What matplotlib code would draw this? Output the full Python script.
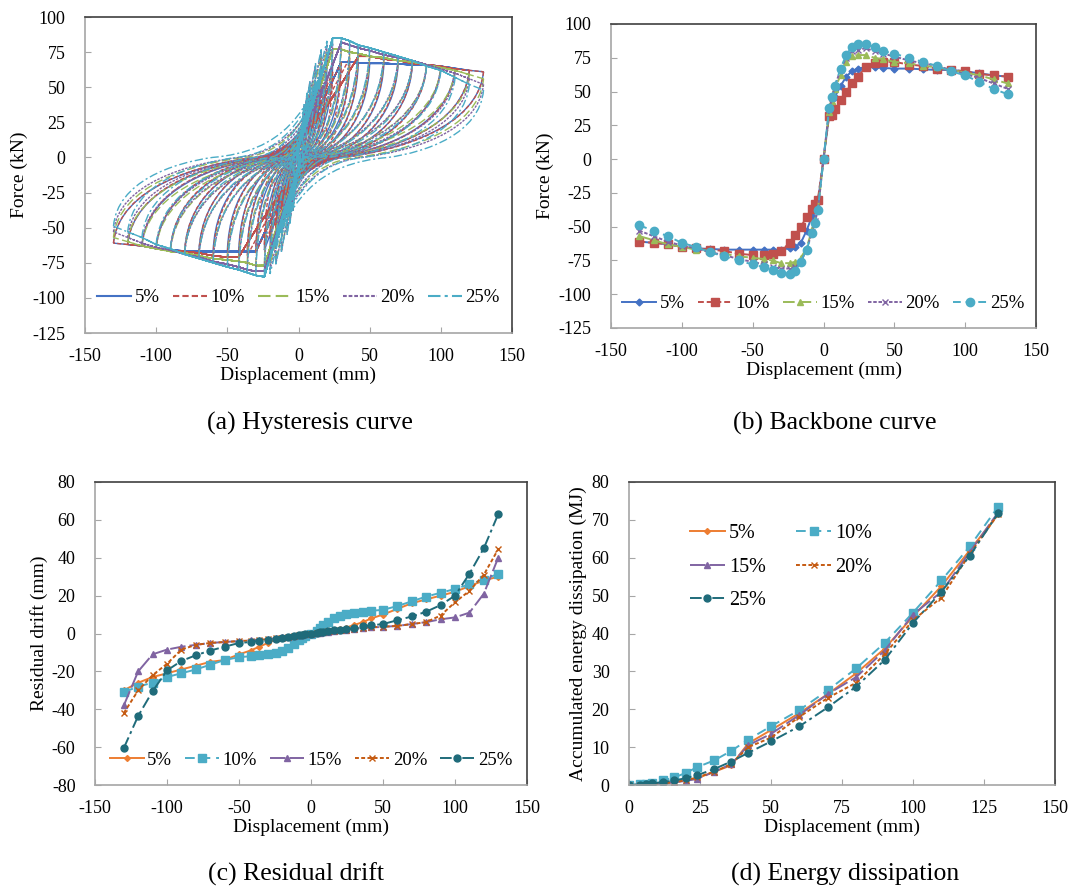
import numpy as np
import matplotlib
matplotlib.use("Agg")
import matplotlib.pyplot as plt
from matplotlib.path import Path
from matplotlib.patches import PathPatch

plt.rcParams["font.family"] = ["Liberation Serif", "DejaVu Serif"]
plt.rcParams["axes.unicode_minus"] = False

labels = ["5%", "10%", "15%", "20%", "25%"]

# displacement amplitudes of the loading protocol (mm)
disp = [-130, -120, -110, -100, -90, -80, -70, -60, -50, -42, -36, -30, -24, -20,
        -16, -12, -8, -6, -4, 0, 4, 6, 8, 12, 16, 20, 24, 30, 36, 42, 50, 60, 70,
        80, 90, 100, 110, 120, 130]

# backbone force (kN)
force_5 = [-61, -62, -63, -65, -66, -66.5, -67, -67, -67, -67, -67, -67, -66, -65,
           -62, -53, -42, -38, -32, 0, 33, 40, 46, 54, 61, 65, 67, 68, 68, 67.5, 67,
           67, 66.5, 66, 66, 65, 63.5, 62, 61]
force_10 = [-61, -62, -63, -65, -66, -67, -68, -70, -71, -71, -70, -68, -62, -56,
            -50, -43, -37, -33, -30, 0, 32, 33, 37, 44, 50, 56, 61, 68, 71, 72, 72,
            70, 69, 67, 66, 65, 63, 62, 61]
force_15 = [-57, -60, -63, -65, -67, -68, -70, -72, -73, -74, -75, -77, -77, -76,
            -73, -66, -52, -45, -38, 0, 35, 43, 52, 62, 72, 76, 77, 77, 75, 74, 72,
            71, 69, 68, 66, 64, 62, 59, 56]
force_20 = [-53, -57, -61, -64, -66, -69, -71, -74, -76, -78, -80, -81, -81, -80,
            -76, -67, -54, -46, -38, 0, 37, 45, 54, 66, 75, 80, 81, 82, 80, 78, 76,
            73, 71, 69, 66, 63, 60, 56, 52]
force_25 = [-49, -53, -57, -62, -65, -69, -72, -75, -78, -80, -82, -84, -85, -83,
            -76, -67, -55, -47, -38, 0, 38, 46, 54, 67, 77, 83, 85, 85, 83, 80, 78,
            75, 72, 69, 65, 62, 57, 52, 48]

# residual drift (mm)
drift_5 = [-30, -26, -23, -21, -19, -17, -15, -14, -11, -9, -7, -5, -3, -2.5, -2,
           -1.5, -1, -0.7, -0.5, 0, 0.5, 0.8, 1, 1.5, 2, 2.5, 3, 4.5, 6, 8, 10, 13,
           16, 18, 20, 22, 25, 28, 30]
drift_10 = [-31, -28, -26, -23, -21, -19, -16.5, -14, -12.5, -12, -11.5, -11, -10.5,
            -9, -7.5, -5.5, -3.5, -2.5, -1.5, 0, 1.5, 3, 4.5, 6, 8, 9.5, 10.5, 11,
            11.5, 12, 12.5, 14.5, 17, 19.5, 21.5, 23.5, 26, 28.5, 31.5]
drift_15 = [-38, -20, -11, -8.5, -7, -6, -5, -4.5, -4, -3.5, -3.2, -3, -2.5, -2,
            -1.7, -1.3, -1, -0.8, -0.5, 0, 0.3, 0.5, 0.7, 1, 1.3, 1.6, 2, 2.5, 3,
            3.2, 3.5, 4, 5, 6, 7.5, 8.5, 11, 21, 40]
drift_20 = [-42, -30, -22, -16, -8.5, -6, -5, -4.5, -4, -3.7, -3.3, -3, -2.6, -2.2,
            -1.8, -1.4, -1, -0.8, -0.5, 0, 0.4, 0.6, 0.8, 1.1, 1.4, 1.7, 2, 2.5, 3,
            3.3, 3.6, 4, 5, 6, 9.5, 16.5, 22.5, 31, 44.5]
drift_25 = [-60.5, -43.5, -30.5, -19.5, -14.5, -11.5, -9, -7, -5, -4.5, -3.8, -3.3,
            -2.8, -2.3, -1.8, -1.4, -1, -0.7, -0.4, 0, 0.5, 0.8, 1, 1.3, 1.6, 2, 2.4,
            3, 3.8, 4.3, 5, 7, 9, 11.5, 15, 20, 31.5, 45, 63]

# accumulated energy dissipation (MJ)
e_disp = [0, 4, 6, 8, 12, 16, 20, 24, 30, 36, 42, 50, 60, 70, 80, 90, 100, 110, 120, 130]
energy_5 = [0, 0.1, 0.2, 0.3, 0.5, 0.8, 1.2, 1.8, 3.5, 5.2, 11, 14.5, 19, 24, 29.5,
            36, 44.5, 52.5, 62, 71.5]
energy_10 = [0, 0.2, 0.3, 0.6, 1.2, 2, 3.2, 4.7, 6.5, 9, 12, 15.5, 19.8, 25, 30.8,
             37.5, 45.5, 54, 63, 73.5]
energy_15 = [0, 0.05, 0.1, 0.2, 0.4, 0.7, 1.1, 1.6, 3.5, 5.5, 10.5, 13.5, 18.5, 24,
             28.5, 35.5, 45, 51, 61.5, 72]
energy_20 = [0, 0.05, 0.1, 0.2, 0.4, 0.8, 1.2, 2, 3.5, 5.5, 10, 12.5, 18, 23, 27,
             34.5, 43.5, 49.5, 61, 71.5]
energy_25 = [0, 0.1, 0.2, 0.4, 0.8, 1.2, 1.8, 2.6, 4.2, 6.2, 8.5, 11.5, 15.5, 20.5,
             26, 33, 42.8, 51, 60.5, 71.8]

forces = [force_5, force_10, force_15, force_20, force_25]
drifts = [drift_5, drift_10, drift_15, drift_20, drift_25]
energies = [energy_5, energy_10, energy_15, energy_20, energy_25]

W, H = 1087, 893
fig = plt.figure(figsize=(W / 100, H / 100), dpi=100)


def px_axes(l, r, t, b):
    return fig.add_axes([l / W, 1 - b / H, (r - l) / W, (b - t) / H])


def style(ax, xlim, xticks, ylim, yticks, ylabel):
    ax.set_xlim(xlim)
    ax.set_ylim(ylim)
    ax.set_xticks(xticks)
    ax.set_yticks(yticks)
    for s in ["left", "bottom"]:
        ax.spines[s].set_color("#a6a6a6")
        ax.spines[s].set_linewidth(1.2)
    for s in ["top", "right"]:
        ax.spines[s].set_color("#404040")
        ax.spines[s].set_linewidth(1.2)
    ax.tick_params(direction="in", length=4, color="#a6a6a6", labelsize=13)
    ax.tick_params(axis="x", pad=11)
    ax.tick_params(axis="y", pad=14)
    ax.set_xlabel("Displacement (mm)", fontsize=14, labelpad=1)
    ax.set_ylabel(ylabel, fontsize=14, labelpad=3)


# ---- (a) hysteresis loops, built from backbone + residual drift values ----
pos = [i for i, x in enumerate(disp) if x > 0]
amps = [disp[i] for i in pos]


def branch(start, r, bx, bf, end, xpk):
    xs, ys = start
    span = r - xs
    verts = [start, (xs + 0.04 * span, ys * 0.35), (r - 0.4 * span, ys * 0.08), (r, 0.0)]
    codes = [Path.MOVETO, Path.CURVE4, Path.CURVE4, Path.CURVE4]
    d, fp = end
    if d > xpk:
        px, py = xpk, bf[bx.index(xpk)]
    else:
        px, py = d, fp
    verts += [(0.2 * r, 0.05 * py), (0.35 * px, 0.35 * py), (px, py)]
    codes += [Path.CURVE4] * 3
    for x, f in zip(bx, bf):
        if px < x <= d:
            verts.append((x, f))
            codes.append(Path.LINETO)
    return verts, codes


def loops(force, drift):
    fpos = [force[i] for i in pos]
    fneg = [-force[disp.index(-a)] for a in amps]
    rpos = [drift[i] for i in pos]
    rneg = [-drift[disp.index(-a)] for a in amps]
    xpk_p = amps[int(np.argmax(fpos))]
    xpk_n = amps[int(np.argmax(fneg))]
    allv, allc = [], []
    for k, d in enumerate(amps):
        v, c = branch((-d, -fneg[k]), -rneg[k], amps, fpos, (d, fpos[k]), xpk_p)
        allv += v
        allc += c
        v, c = branch((-d, -fpos[k]), -rpos[k], amps, fneg, (d, fneg[k]), xpk_n)
        allv += [(-x, -y) for x, y in v]
        allc += c
    return Path(allv, allc)


leg_kw = dict(loc="center", ncol=5, frameon=False, fontsize=13.5, handlelength=1.8,
              columnspacing=0.7, handletextpad=0.2, borderpad=0.2)

ax_a = px_axes(85, 512, 17, 333)
hyst_colors = ["#4472C4", "#C0504D", "#9BBB59", "#8064A2", "#4BACC6"]
hyst_ls = ["-", (0, (3, 1.5)), (0, (6, 2.5)), (0, (1.8, 0.9)), (0, (6, 2, 1.5, 2))]
for k in range(5):
    ax_a.add_patch(PathPatch(loops(forces[k], drifts[k]), fill=False,
                             edgecolor=hyst_colors[k], linestyle=hyst_ls[k], lw=1.0))
    ax_a.plot([], [], color=hyst_colors[k], ls=hyst_ls[k], lw=1.5, label=labels[k])
style(ax_a, (-150, 150), range(-150, 151, 50), (-125, 100), range(-125, 101, 25),
      "Force (kN)")
ax_a.legend(bbox_to_anchor=(0.5, 0.111), **leg_kw)

# ---- (b) backbone ----
ax_b = px_axes(611, 1036, 24, 328)
bb_markers = ["D", "s", "^", "x", "o"]
bb_ms = [3.5, 5.5, 5, 4.5, 6]
bb_ls = ["-", (0, (3, 1.5)), (0, (6, 2.5)), (0, (1.8, 0.9)), (0, (4, 2.5))]
for k in range(5):
    ax_b.plot(disp, forces[k], color=hyst_colors[k], ls=bb_ls[k], lw=1.4,
              marker=bb_markers[k], ms=bb_ms[k], label=labels[k])
style(ax_b, (-150, 150), range(-150, 151, 50), (-125, 100), range(-125, 101, 25),
      "Force (kN)")
ax_b.legend(bbox_to_anchor=(0.5, 0.08), **leg_kw)

# ---- (c) residual drift ----
res_colors = ["#ED7D31", "#4BACC6", "#8064A2", "#C55A11", "#1F6B7A"]
res_markers = ["D", "s", "^", "x", "o"]
res_ms = [3, 5.5, 4.5, 4.5, 5]
res_ls = ["-", (0, (5, 3)), (0, (8, 2)), (0, (2, 1.2)), (0, (6, 2, 1.5, 2))]
ax_c = px_axes(95, 527, 482, 785)
for k in range(5):
    ax_c.plot(disp, drifts[k], color=res_colors[k], ls=res_ls[k], lw=1.4,
              marker=res_markers[k], ms=res_ms[k], label=labels[k])
style(ax_c, (-150, 150), range(-150, 151, 50), (-80, 80), range(-80, 81, 20),
      "Residual drift (mm)")
ax_c.legend(bbox_to_anchor=(0.5, 0.081), **leg_kw)

# ---- (d) energy dissipation ----
ax_d = px_axes(629, 1055, 482, 785)
lines = []
for k in range(5):
    ln, = ax_d.plot(e_disp, energies[k], color=res_colors[k], ls=res_ls[k], lw=1.4,
                    marker=res_markers[k], ms=res_ms[k], label=labels[k])
    lines.append(ln)
style(ax_d, (0, 150), range(0, 151, 25), (0, 80), range(0, 81, 10),
      "Accumulated energy dissipation (MJ)")
order = [0, 2, 4, 1, 3]
ax_d.legend([lines[i] for i in order], [labels[i] for i in order],
            loc="upper left", bbox_to_anchor=(0.1, 0.92), ncol=2, frameon=False,
            fontsize=14.5, handlelength=1.75, columnspacing=1.5, handletextpad=0.2,
            labelspacing=0.7, borderpad=0.4)

# captions
for x, y, s in [(310, 423, "(a) Hysteresis curve"), (835, 423, "(b) Backbone curve"),
                (296, 874, "(c) Residual drift"), (845, 874, "(d) Energy dissipation")]:
    fig.text(x / W, 1 - y / H, s, ha="center", va="center", fontsize=18.5)

fig.savefig("out.png", dpi=100)
